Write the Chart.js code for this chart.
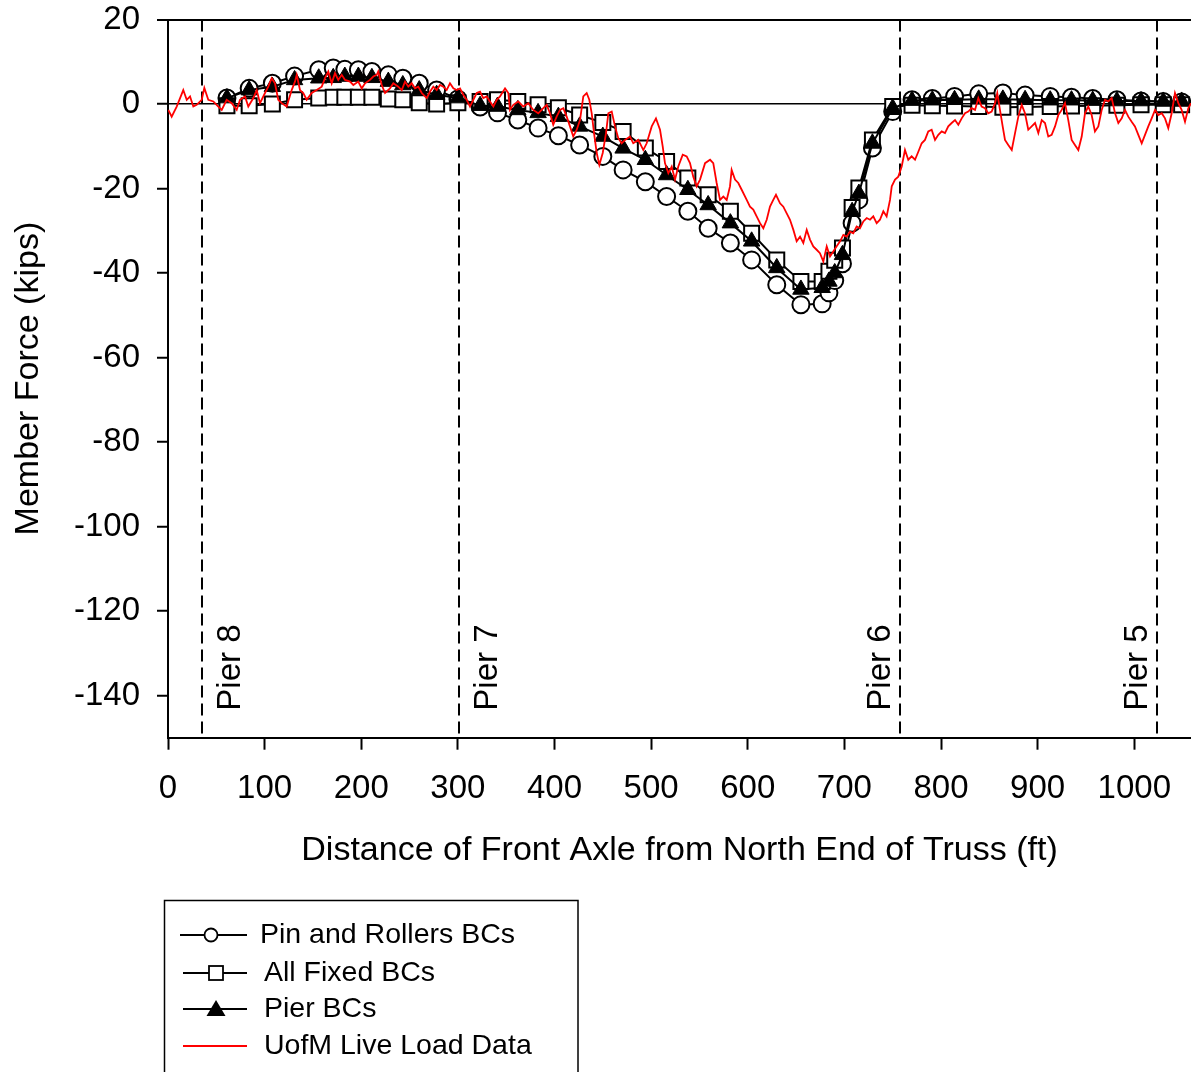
<!DOCTYPE html>
<html>
<head>
<meta charset="utf-8">
<title>Member Force vs. Front Axle Position</title>
<script src="https://cdn.jsdelivr.net/npm/chart.js@4/dist/chart.umd.min.js"></script>
<style>
  html, body { margin: 0; padding: 0; background: #ffffff; }
  #wrap { width: 1191px; height: 1072px; position: relative; overflow: hidden; }
  canvas { display: block; }
</style>
</head>
<body>
<div id="wrap"><canvas id="chart" width="1191" height="1072"></canvas></div>
<script>
// ---- data ---------------------------------------------------------------
const xTicks = [0, 100, 200, 300, 400, 500, 600, 700, 800, 900, 1000];
const yTicks = [-140, -120, -100, -80, -60, -40, -20, 0, 20];

// truck front-axle positions (ft) for the finite element runs
const modelFt = [61, 84, 108, 131, 156, 171, 183, 197, 211, 228,
                 243, 260, 278, 300, 323, 341, 362, 383, 404, 426,
                 450, 471, 494, 516, 538, 559, 582, 604, 630, 655,
                 677, 684, 690, 698, 708, 715, 729, 750, 770, 791,
                 814, 839, 864, 887, 913, 935, 957, 982, 1007, 1030, 1049];

// member force (kips), pin and roller supports
const pinRollers = [1.4, 3.7, 4.9, 6.6, 8.1, 8.5, 8.2, 8.1, 7.7, 6.9,
                    6.1, 4.9, 3.3, 1.2, -0.7, -2.1, -3.8, -5.7, -7.5, -9.7,
                    -12.4, -15.6, -18.4, -21.9, -25.4, -29.4, -32.9, -36.9, -42.8, -47.5,
                    -47.3, -44.7, -41.8, -37.8, -28.2, -22.7, -10.4, -1.8, 1.0, 1.3,
                    1.8, 2.4, 2.6, 2.1, 1.8, 1.6, 1.3, 1.0, 0.7, 0.6, 0.5];

// member force (kips), all supports fixed
const allFixed = [-0.4, -0.4, 0.0, 1.0, 1.4, 1.6, 1.6, 1.6, 1.6, 1.2,
                  1.0, 0.3, 0.0, 0.3, 0.6, 1.0, 0.6, -0.2, -0.9, -2.6,
                  -4.4, -6.5, -10.4, -13.6, -17.5, -21.5, -25.4, -30.6, -36.9, -42.0,
                  -42.0, -39.6, -37.0, -34.1, -24.5, -19.9, -8.5, -0.6, -0.3, -0.4,
                  -0.5, -0.6, -0.8, -0.7, -0.6, -0.5, -0.4, -0.3, -0.2, -0.2, -0.2];

// member force (kips), pier boundary conditions
const pierBCs = [1.4, 3.3, 4.1, 5.7, 6.1, 6.2, 6.5, 6.5, 6.2, 5.3,
                 4.5, 3.3, 2.2, 1.4, -0.4, -0.6, -1.4, -2.1, -3.0, -5.3,
                 -7.7, -10.5, -13.2, -16.8, -20.3, -23.9, -28.2, -32.5, -38.8, -43.9,
                 -43.5, -42.0, -40.0, -35.7, -25.5, -21.2, -9.3, -1.0, 0.8, 0.9,
                 1.0, 1.1, 1.1, 1.0, 0.9, 0.9, 0.8, 0.7, 0.7, 0.6, 0.6];

// UofM live load test record
const uofmFt = [0.3, 3.8, 9.0, 15.8, 19.4, 22.8, 26.2, 29.7, 34.9, 37.6,
  41.7, 46.9, 52.1, 55.6, 60.7, 65.9, 71.1, 74.5, 79.7, 83.1,
  88.3, 91.8, 95.2, 100.4, 103.8, 107.3, 110.7, 114.1, 117.7, 122.8,
  128.0, 131.4, 133.2, 136.6, 140.0, 143.5, 148.7, 153.9, 159.1, 162.5,
  165.9, 169.4, 172.8, 176.2, 179.8, 183.2, 188.4, 191.8, 196.9, 200.5,
  203.9, 209.0, 212.5, 216.0, 217.6, 221.2, 224.6, 229.7, 233.2, 238.3,
  241.9, 245.3, 248.7, 252.2, 255.6, 259.0, 262.6, 267.7, 271.1, 274.6,
  278.1, 281.5, 284.9, 288.4, 291.8, 295.3, 298.8, 302.2, 305.6, 309.1,
  312.5, 316.0, 319.5, 322.9, 326.3, 329.8, 333.2, 336.7, 340.2, 343.6,
  348.8, 352.2, 353.9, 357.4, 362.5, 367.7, 372.9, 378.0, 383.2, 388.4,
  391.9, 395.3, 398.7, 402.2, 405.7, 409.1, 412.6, 416.0, 419.4, 423.0,
  426.4, 429.8, 433.3, 436.0, 438.5, 440.9, 443.7, 446.4, 449.9, 453.3,
  455.7, 459.2, 462.6, 466.0, 469.5, 473.0, 478.1, 481.5, 486.7, 491.9,
  495.4, 500.6, 505.0, 509.2, 512.0, 514.3, 517.8, 521.3, 524.7, 528.1,
  532.7, 536.8, 540.2, 543.6, 547.1, 550.6, 555.8, 561.0, 564.3, 567.8,
  571.3, 574.7, 578.2, 581.6, 583.3, 586.8, 590.2, 593.7, 598.9, 602.3,
  605.7, 609.2, 612.7, 616.1, 619.6, 623.0, 626.4, 629.2, 633.4, 636.8,
  640.3, 643.7, 647.2, 650.6, 654.1, 657.5, 661.0, 664.4, 667.8, 671.3,
  674.7, 678.2, 681.7, 685.1, 688.5, 692.0, 695.5, 698.9, 702.3, 705.8,
  709.2, 712.7, 716.1, 719.6, 723.1, 726.5, 729.9, 733.4, 736.8, 740.3,
  743.7, 747.2, 749.0, 752.4, 755.8, 759.3, 762.7, 766.1, 769.6, 773.1,
  776.5, 780.0, 783.4, 786.8, 790.3, 793.8, 797.2, 800.7, 804.1, 807.5,
  811.0, 814.5, 817.9, 821.4, 824.8, 828.2, 831.7, 835.2, 838.6, 842.0,
  845.5, 848.9, 852.4, 855.9, 858.2, 861.0, 863.8, 866.2, 869.6, 873.2,
  876.6, 880.0, 883.5, 886.9, 890.3, 893.8, 897.3, 900.7, 904.2, 907.6,
  911.0, 914.5, 918.0, 921.4, 924.9, 928.3, 931.7, 935.2, 938.6, 942.1,
  945.6, 949.0, 952.4, 955.9, 959.3, 962.8, 966.3, 969.7, 973.1, 976.6,
  980.1, 983.5, 987.0, 990.4, 993.8, 997.3, 1000.7, 1004.2, 1007.7, 1011.1,
  1014.5, 1018.0, 1021.5, 1024.9, 1028.4, 1031.8, 1035.2, 1038.7, 1042.1, 1045.6,
  1049.0, 1052.5, 1055.9, 1058.7];
const uofmKips = [-1.4, -3.0, -0.6, 3.3, 1.0, 1.8, -0.6, -0.2, 1.0, 3.8,
  1.0, 0.6, -0.6, -1.4, 1.0, 0.2, -1.4, 1.0, 1.8, -0.6,
  1.4, 3.3, 0.2, 2.6, 4.1, 6.1, 4.9, 1.0, 0.2, -0.6,
  3.3, 5.3, 6.9, 3.3, 2.6, 1.0, 2.6, 3.3, 4.1, 6.1,
  7.7, 4.9, 7.3, 5.7, 6.9, 5.7, 5.3, 4.5, 5.3, 3.7,
  4.9, 5.7, 6.5, 6.9, 7.7, 4.5, 2.6, 3.7, 4.9, 4.1,
  3.3, 5.3, 4.1, 4.9, 3.7, 4.1, 2.6, 1.4, 2.9, 4.1,
  3.3, 4.5, 4.1, 3.3, 4.9, 3.7, 3.3, 3.7, 2.2, 1.0,
  -0.6, 1.0, 2.6, 2.9, 1.4, 1.8, 0.6, -0.6, 1.0, 1.8,
  3.7, 2.6, -1.4, -0.2, 0.6, -0.6, 0.2, -1.4, -2.2, -1.0,
  -0.2, -2.2, -4.9, -3.0, -1.4, -1.0, -3.0, -5.3, -7.7, -6.1,
  -3.8, 1.8, 2.6, 1.0, -2.2, -6.9, -11.6, -14.4, -11.6, -6.9,
  -2.2, -1.8, -5.3, -8.1, -9.3, -8.5, -7.7, -9.3, -8.5, -10.9,
  -9.3, -5.3, -3.4, -6.1, -10.1, -14.0, -16.4, -14.8, -17.9, -14.8,
  -12.0, -12.4, -14.0, -17.2, -19.5, -17.9, -14.0, -13.2, -14.0, -18.7,
  -22.7, -21.9, -22.7, -19.5, -15.6, -17.9, -18.7, -20.3, -22.7, -24.3,
  -25.0, -26.6, -28.2, -29.4, -27.4, -24.3, -22.7, -21.5, -23.5, -24.3,
  -25.9, -27.4, -29.8, -32.5, -31.4, -32.9, -29.8, -32.1, -33.7, -34.5,
  -35.3, -37.3, -33.7, -36.1, -34.9, -33.7, -32.5, -31.0, -31.4, -30.2,
  -30.6, -29.0, -29.4, -27.8, -27.0, -27.4, -26.6, -28.2, -27.4, -25.4,
  -26.6, -22.7, -19.5, -17.9, -17.2, -14.8, -10.9, -13.2, -12.4, -13.2,
  -11.3, -9.3, -8.5, -6.5, -6.1, -8.5, -7.3, -6.5, -6.9, -5.3,
  -4.5, -3.8, -4.9, -3.4, -2.2, -1.8, -1.0, -1.4, 1.4, -0.6,
  -1.0, -2.2, -1.8, 0.2, 2.6, -1.4, -5.3, -8.5, -9.7, -10.9,
  -6.9, -3.0, -0.2, -2.2, -6.1, -5.3, -4.5, -6.9, -3.8, -4.5,
  -7.7, -7.3, -5.3, -2.6, -1.4, 0.2, -3.8, -8.5, -9.7, -10.9,
  -7.7, -2.2, -0.6, -2.6, -6.5, -5.3, -1.4, 1.0, 0.6, 1.4,
  -2.2, -4.5, -3.4, -1.4, -3.0, -4.2, -5.3, -7.3, -9.3, -7.3,
  -5.3, -3.4, -1.4, -2.6, -2.2, -3.4, -5.7, -2.2, 2.6, 0.2,
  -1.4, -4.2, -1.0, 0.2];

// pier locations (ft) and their labels
const pierFt = [35.5, 301, 757.5, 1023.5];
const pierNames = ['Pier 8', 'Pier 7', 'Pier 6', 'Pier 5'];
const pierLabelSide = ['right', 'right', 'left', 'left'];

const seriesNames = ['Pin and Rollers BCs', 'All Fixed BCs', 'Pier BCs', 'UofM Live Load Data'];

// ---- drawing --------------------------------------------------------------
const FONT = '"Liberation Sans", Arial, Helvetica, sans-serif';
const pairs = (xs, ys) => xs.map((v, i) => ({ x: v, y: ys[i] }));

// dashed pier lines with rotated labels
const pierPlugin = {
  id: 'pierLines',
  beforeDatasetsDraw(chart) {
    const { ctx, chartArea, scales: { x } } = chart;
    ctx.save();
    ctx.strokeStyle = '#000';
    ctx.lineWidth = 2;
    ctx.setLineDash([12, 6]);
    pierFt.forEach(ft => {
      const px = Math.round(x.getPixelForValue(ft));
      ctx.beginPath();
      ctx.moveTo(px, chartArea.top);
      ctx.lineTo(px, chartArea.bottom);
      ctx.stroke();
    });
    ctx.setLineDash([]);
    ctx.fillStyle = '#000';
    ctx.font = '33px ' + FONT;
    ctx.textAlign = 'left';
    ctx.textBaseline = 'alphabetic';
    pierFt.forEach((ft, i) => {
      const px = x.getPixelForValue(ft);
      const bx = pierLabelSide[i] === 'right' ? px + 38 : px - 10;
      ctx.save();
      ctx.translate(bx, chartArea.bottom - 27);
      ctx.rotate(-Math.PI / 2);
      ctx.fillText(pierNames[i], 0, 0);
      ctx.restore();
    });
    ctx.restore();
  }
};

// boxed legend below the x-axis title
const boxLegendPlugin = {
  id: 'boxLegend',
  afterDraw(chart) {
    const ctx = chart.ctx;
    ctx.save();
    ctx.strokeStyle = '#000';
    ctx.lineWidth = 1.5;
    ctx.strokeRect(164.5, 900.5, 413.5, 220);

    const rows = [
      { y: 935, style: 'circle', textX: 260, mx: 211 },
      { y: 973, style: 'rect', textX: 264, mx: 216 },
      { y: 1009, style: 'triangle', textX: 264, mx: 216 },
      { y: 1046, style: 'none', textX: 264, mx: 216 }
    ];
    ctx.font = '28.5px ' + FONT;
    ctx.textBaseline = 'middle';
    ctx.textAlign = 'left';
    rows.forEach((r, i) => {
      const red = r.style === 'none';
      ctx.strokeStyle = red ? '#ff0000' : '#000';
      ctx.lineWidth = 2;
      ctx.beginPath();
      ctx.moveTo(i === 0 ? 180 : 183, r.y);
      ctx.lineTo(247, r.y);
      ctx.stroke();
      ctx.strokeStyle = '#000';
      ctx.lineWidth = 1.8;
      if (r.style === 'circle') {
        ctx.fillStyle = '#fff';
        ctx.beginPath();
        ctx.arc(r.mx, r.y, 6.5, 0, Math.PI * 2);
        ctx.fill(); ctx.stroke();
      } else if (r.style === 'rect') {
        ctx.fillStyle = '#fff';
        ctx.fillRect(r.mx - 7, r.y - 7, 14, 14);
        ctx.strokeRect(r.mx - 7, r.y - 7, 14, 14);
      } else if (r.style === 'triangle') {
        ctx.fillStyle = '#000';
        ctx.beginPath();
        ctx.moveTo(r.mx, r.y - 9);
        ctx.lineTo(r.mx + 9.5, r.y + 7);
        ctx.lineTo(r.mx - 9.5, r.y + 7);
        ctx.closePath();
        ctx.fill();
      }
      ctx.fillStyle = '#000';
      ctx.fillText(seriesNames[i], r.textX, r.y);
    });
    ctx.restore();
  }
};

const frameColor = c => (c.tick && (c.tick.value === 0 || c.tick.value === 20)) ? '#000' : 'rgba(0,0,0,0)';
const frameWidth = c => (c.tick && c.tick.value === 20) ? 2 : 1.5;
const noEdgePadding = s => { s.paddingTop = 0; s.paddingBottom = 0; s.paddingLeft = 0; s.paddingRight = 0; };

new Chart(document.getElementById('chart'), {
  type: 'scatter',
  data: {
    datasets: [
      {
        label: seriesNames[3],
        data: pairs(uofmFt, uofmKips),
        showLine: true,
        borderColor: '#ff0000',
        borderWidth: 1.8,
        pointRadius: 0,
        tension: 0,
        order: 0
      },
      {
        label: seriesNames[2],
        data: pairs(modelFt, pierBCs),
        showLine: true,
        borderColor: '#000',
        borderWidth: 2,
        pointStyle: 'triangle',
        pointRadius: 9.5,
        pointBackgroundColor: '#000',
        pointBorderColor: '#000',
        pointBorderWidth: 1,
        order: 1
      },
      {
        label: seriesNames[1],
        data: pairs(modelFt, allFixed),
        showLine: true,
        borderColor: '#000',
        borderWidth: 2,
        pointStyle: 'rect',
        pointRadius: 10.6,
        pointBackgroundColor: '#fff',
        pointBorderColor: '#000',
        pointBorderWidth: 2,
        order: 2
      },
      {
        label: seriesNames[0],
        data: pairs(modelFt, pinRollers),
        showLine: true,
        borderColor: '#000',
        borderWidth: 2,
        pointStyle: 'circle',
        pointRadius: 8.5,
        pointBackgroundColor: '#fff',
        pointBorderColor: '#000',
        pointBorderWidth: 2,
        order: 3
      }
    ]
  },
  options: {
    responsive: false,
    animation: false,
    devicePixelRatio: 1,
    layout: { autoPadding: false, padding: { top: 19.5, left: 0, right: 0, bottom: 184.3 } },
    plugins: {
      legend: { display: false },
      tooltip: { enabled: false }
    },
    scales: {
      x: {
        type: 'linear',
        min: 0,
        max: 1058.7,
        afterBuildTicks: s => { s.ticks = xTicks.map(v => ({ value: v })); },
        afterFit: s => { s.height = 150; noEdgePadding(s); },
        ticks: {
          color: '#000',
          font: { family: FONT, size: 33, lineHeight: 1.15 },
          padding: 20,
          maxRotation: 0,
          autoSkip: false,
          callback: v => String(v)
        },
        grid: {
          drawOnChartArea: false,
          drawTicks: true,
          tickLength: 12,
          tickColor: '#000',
          tickWidth: 2
        },
        border: { display: true, color: '#000', width: 2 },
        title: {
          display: true,
          text: 'Distance of Front Axle from North End of Truss (ft)',
          color: '#000',
          font: { family: FONT, size: 34, lineHeight: 1.2 },
          padding: { top: 0, bottom: 17 }
        }
      },
      y: {
        type: 'linear',
        min: -150,
        max: 20,
        afterBuildTicks: s => { s.ticks = yTicks.map(v => ({ value: v })); },
        afterFit: s => { s.width = 168; noEdgePadding(s); },
        ticks: {
          color: '#000',
          font: { family: FONT, size: 33, lineHeight: 1.15 },
          padding: 17,
          callback: v => String(v)
        },
        grid: {
          drawOnChartArea: true,
          color: frameColor,
          lineWidth: frameWidth,
          drawTicks: true,
          tickLength: 11,
          tickColor: '#000',
          tickWidth: 2
        },
        border: { display: true, color: '#000', width: 2 },
        title: {
          display: true,
          text: 'Member Force (kips)',
          color: '#000',
          font: { family: FONT, size: 34, lineHeight: 1.2 },
          padding: { top: 8, bottom: 0 }
        }
      }
    }
  },
  plugins: [pierPlugin, boxLegendPlugin]
});
</script>
</body>
</html>
